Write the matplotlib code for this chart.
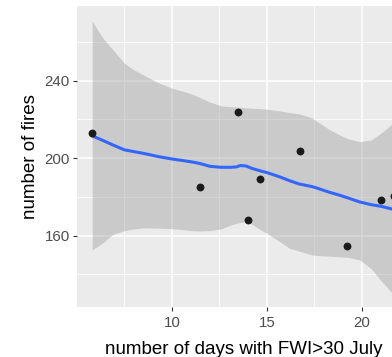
import matplotlib
matplotlib.use("Agg")
import matplotlib.pyplot as plt
from matplotlib.ticker import FixedLocator

# observed points
fwi_days = [5.8, 11.48, 13.49, 14.03, 14.63, 16.73, 19.21, 21.02, 21.7]
n_fires = [212.9, 185.0, 224.0, 167.9, 189.1, 203.6, 154.7, 178.4, 180.5]

# loess fit and its confidence band
smooth_x = [5.8, 6.1, 6.4, 6.9, 7.5, 8.0, 8.5, 9.3, 10.0, 10.5, 11.1, 11.5,
            12.0, 12.6, 13.1, 13.4, 13.6, 13.9, 14.2, 14.6, 15.0, 15.7, 16.2,
            16.7, 17.4, 17.6, 18.3, 18.8, 19.3, 19.9, 20.5, 21.0, 21.5, 21.8]
smooth_fit = [211.5, 210.3, 209.0, 206.8, 204.3, 203.4, 202.5, 200.8, 199.6,
              198.9, 198.0, 197.2, 195.8, 195.3, 195.3, 195.5, 196.2, 196.0,
              194.8, 193.6, 192.6, 190.3, 188.4, 186.7, 185.3, 184.7, 182.4,
              181.0, 179.4, 177.4, 176.0, 175.2, 174.0, 173.2]
smooth_hi = [270.9, 266.0, 261.5, 255.9, 249.0, 245.6, 243.0, 238.9, 236.2,
             234.8, 233.0, 231.2, 229.0, 227.0, 226.6, 226.4, 226.3, 226.0,
             225.8, 225.6, 225.3, 224.4, 223.6, 222.9, 220.8, 219.3, 214.8,
             212.2, 210.0, 208.5, 209.4, 212.8, 216.8, 219.5]
smooth_lo = [152.6, 154.6, 156.6, 160.7, 162.6, 163.5, 164.0, 163.9, 163.6,
             163.2, 162.5, 162.4, 162.6, 163.5, 165.5, 166.3, 166.8, 167.2,
             166.0, 163.5, 161.2, 156.8, 153.5, 152.0, 150.0, 149.8, 149.4,
             149.1, 148.8, 147.4, 143.0, 137.0, 131.5, 128.5]

x_major = [10, 15, 20]
x_minor = [7.5, 12.5, 17.5, 22.5]
y_major = [160, 200, 240]
y_minor = [140, 180, 220, 260]

plt.rcParams["font.family"] = ["Liberation Sans", "DejaVu Sans"]

W, H = 392, 357
fig = plt.figure(figsize=(W / 100, H / 100), dpi=100)
# panel runs past the right edge, like the cropped original
left, right, top, bottom = 77, 411, 6, 307.3
ax = fig.add_axes([left / W, 1 - bottom / H, (right - left) / W, (bottom - top) / H])
ax.set_facecolor("#EBEBEB")

ax.fill_between(smooth_x, smooth_lo, smooth_hi, color="#999999", alpha=0.4,
                linewidth=0, zorder=2)
ax.plot(smooth_x, smooth_fit, color="#3366FF", lw=2.2, zorder=3,
        solid_capstyle="butt")
ax.scatter(fwi_days, n_fires, s=32, color="#1a1a1a", linewidths=0, zorder=4)

ax.set_xlim(5.0, 22.6)
ax.set_ylim(123.0, 278.6)

ax.xaxis.set_major_locator(FixedLocator(x_major))
ax.xaxis.set_minor_locator(FixedLocator(x_minor))
ax.yaxis.set_major_locator(FixedLocator(y_major))
ax.yaxis.set_minor_locator(FixedLocator(y_minor))

ax.set_axisbelow(True)
ax.grid(which="major", color="white", lw=1.1, zorder=1)
ax.grid(which="minor", color="white", lw=0.55, zorder=1)

for s in ax.spines.values():
    s.set_visible(False)

ax.tick_params(which="major", length=2.9, width=0.8, color="#333333",
               labelcolor="#4D4D4D", labelsize=10.8)
ax.tick_params(axis="x", pad=3.2)
ax.tick_params(axis="y", pad=2.2)
ax.tick_params(which="minor", length=0)

fig.text(244 / W, (H - 354) / H, "number of days with FWI>30 July",
         ha="center", va="baseline", fontsize=13.5, color="black")
fig.text(30.2 / W, 1 - 156.7 / H, "number of fires", rotation=90,
         ha="center", va="center", fontsize=13.5, color="black")

fig.savefig("out.png", dpi=100)
